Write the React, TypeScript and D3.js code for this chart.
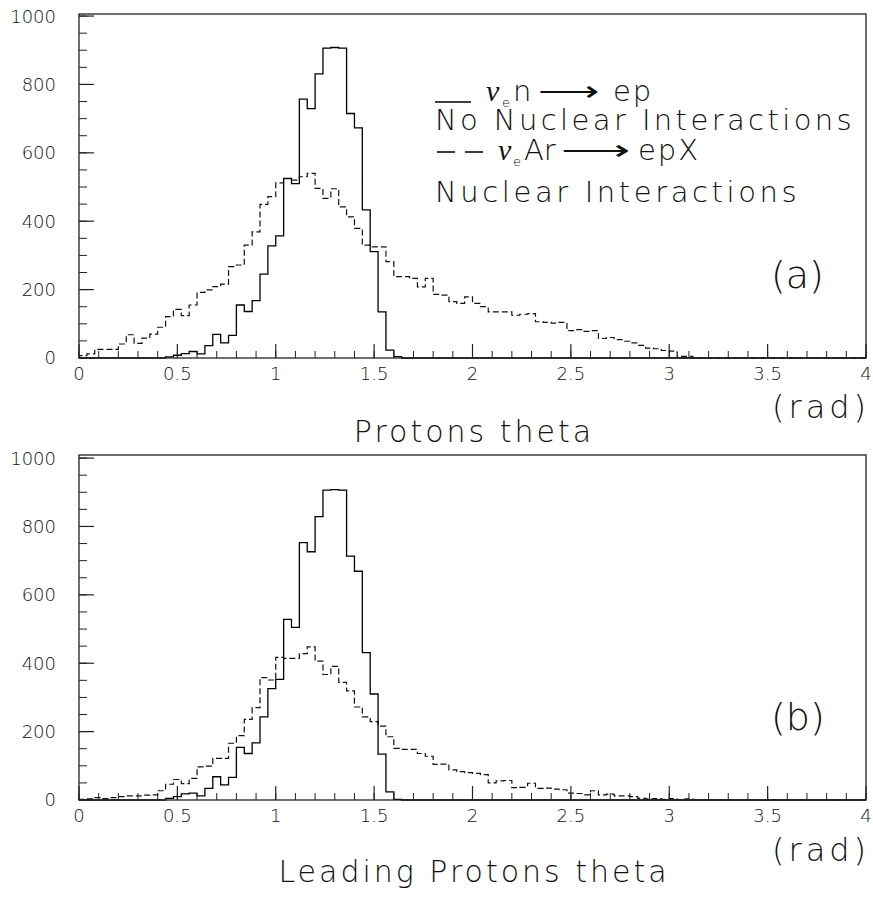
import React from "react";
import * as d3 from "d3";

// ---- data (bin width 0.04 rad, 100 bins from 0 to 4) ----
const BIN_WIDTH = 0.04;

const solidA = [
  0, 0, 0, 0, 0, 0, 0, 0, 0, 0,
  0, 3, 8, 13, 19, 12, 36, 69, 44, 66,
  155, 136, 168, 245, 328, 357, 525, 510, 757, 729,
  831, 906, 908, 906, 715, 673, 433, 311, 135, 23,
  4, 0, 0, 0, 0, 0, 0, 0, 0, 0,
  0, 0, 0, 0, 0, 0, 0, 0, 0, 0,
  0, 0, 0, 0, 0, 0, 0, 0, 0, 0,
  0, 0, 0, 0, 0, 0, 0, 0, 0, 0,
  0, 0, 0, 0, 0, 0, 0, 0, 0, 0,
  0, 0, 0, 0, 0, 0, 0, 0, 0, 0,
];

const dashedA = [
  7, 12, 25, 25, 25, 41, 68, 43, 58, 70,
  90, 121, 142, 124, 155, 192, 199, 209, 216, 267,
  272, 330, 369, 449, 472, 512, 525, 520, 530, 540,
  496, 467, 495, 442, 413, 379, 330, 325, 325, 282,
  238, 238, 233, 208, 233, 186, 184, 165, 160, 179,
  160, 150, 135, 135, 135, 125, 128, 130, 106, 104,
  102, 104, 80, 83, 78, 80, 57, 60, 54, 49,
  44, 37, 29, 27, 22, 20, 5, 5, 0, 0,
  0, 0, 0, 0, 0, 0, 0, 0, 0, 0,
  0, 0, 0, 0, 0, 0, 0, 0, 0, 0,
];

const solidB = [
  0, 0, 0, 0, 0, 0, 0, 0, 0, 0,
  0, 5, 10, 18, 20, 12, 34, 68, 44, 66,
  154, 136, 167, 243, 326, 353, 528, 505, 753, 726,
  829, 906, 908, 906, 713, 669, 431, 310, 134, 24,
  2, 0, 0, 0, 0, 0, 0, 0, 0, 0,
  0, 0, 0, 0, 0, 0, 0, 0, 0, 0,
  0, 0, 0, 0, 0, 0, 0, 0, 0, 0,
  0, 0, 0, 0, 0, 0, 0, 0, 0, 0,
  0, 0, 0, 0, 0, 0, 0, 0, 0, 0,
  0, 0, 0, 0, 0, 0, 0, 0, 0, 0,
];

const dashedB = [
  2, 3, 7, 4, 7, 10, 12, 12, 14, 15,
  27, 46, 60, 48, 63, 97, 99, 122, 122, 166,
  188, 236, 270, 358, 351, 417, 414, 414, 428, 448,
  406, 367, 391, 344, 319, 272, 243, 229, 216, 185,
  151, 148, 148, 136, 128, 104, 105, 88, 83, 80,
  78, 74, 50, 56, 57, 36, 37, 49, 34, 35,
  32, 30, 20, 19, 15, 27, 15, 17, 12, 12,
  10, 5, 3, 4, 2, 4, 0, 3, 0, 0,
  0, 0, 0, 0, 0, 0, 0, 0, 0, 0,
  0, 0, 0, 0, 0, 0, 0, 0, 0, 0,
];

const xMajorTicks = [0, 0.5, 1, 1.5, 2, 2.5, 3, 3.5, 4];
const xTickLabels = ["0", "0.5", "1", "1.5", "2", "2.5", "3", "3.5", "4"];
const yMajorTicks = [0, 200, 400, 600, 800, 1000];
const yTickLabels = ["0", "200", "400", "600", "800", "1000"];

const FONT = "'DejaVu Sans', 'Liberation Sans', sans-serif";
const NU_FONT = "'Liberation Serif', serif";
const X0 = 79;
const X1 = 866;

type PanelProps = {
  top: number;
  bottom: number;
  yMax: number;
  solid: number[];
  dashed: number[];
  tag: string;
  tagBaseline: number;
  title: string;
  titleBaseline: number;
  radBaseline: number;
  xLabelBaseline: number;
};

function histPath(values: number[], x: d3.ScaleLinear<number, number>, y: d3.ScaleLinear<number, number>) {
  const pts: [number, number][] = [[0, 0]];
  values.forEach((v, i) => pts.push([i * BIN_WIDTH, v]));
  pts.push([values.length * BIN_WIDTH, values[values.length - 1]]);
  const line = d3
    .line<[number, number]>()
    .x((d) => x(d[0]))
    .y((d) => y(d[1]))
    .curve(d3.curveStepAfter);
  return line(pts) || "";
}

function Panel(p: PanelProps) {
  const x = d3.scaleLinear().domain([0, 4]).range([X0, X1]);
  const y = d3.scaleLinear().domain([0, p.yMax]).range([p.bottom, p.top]);
  const xMinor = x.ticks(40);
  const yMinor = d3.scaleLinear().domain([0, 1000]).ticks(20);
  return (
    <g>
      {/* histograms */}
      <path d={histPath(p.dashed, x, y)} fill="none" stroke="#111" strokeWidth={1.2} strokeDasharray="6 3" />
      <path d={histPath(p.solid, x, y)} fill="none" stroke="#000" strokeWidth={1.3} />
      {/* frame */}
      <rect x={X0} y={p.top} width={X1 - X0} height={p.bottom - p.top} fill="none" stroke="#222" strokeWidth={1.3} />
      {/* y ticks */}
      {yMinor.map((t) => (
        <line key={"ym" + t} x1={X0} x2={X0 + 8} y1={y(t)} y2={y(t)} stroke="#222" strokeWidth={1} />
      ))}
      {yMajorTicks.map((t) => (
        <line key={"yM" + t} x1={X0} x2={X0 + 15} y1={y(t)} y2={y(t)} stroke="#222" strokeWidth={1.2} />
      ))}
      {yMajorTicks.map((t, i) => (
        <text key={"yl" + t} x={56} y={y(t)} dy="0.36em" textAnchor="end" fontSize={18} fontFamily={FONT} fontWeight={300} fill="#111">
          {yTickLabels[i]}
        </text>
      ))}
      {/* x ticks */}
      {xMinor.map((t) => (
        <line key={"xm" + t} x1={x(t)} x2={x(t)} y1={p.bottom} y2={p.bottom - 7} stroke="#222" strokeWidth={1} />
      ))}
      {xMajorTicks.map((t) => (
        <line key={"xM" + t} x1={x(t)} x2={x(t)} y1={p.bottom} y2={p.bottom - 14} stroke="#222" strokeWidth={1.2} />
      ))}
      {xMajorTicks.map((t, i) => (
        <text key={"xl" + t} x={x(t)} y={p.xLabelBaseline} textAnchor="middle" fontSize={18} fontFamily={FONT} fontWeight={300} fill="#111">
          {xTickLabels[i]}
        </text>
      ))}
      {/* labels */}
      <text x={771} y={p.tagBaseline} fontSize={38} fontFamily={FONT} fontWeight={300} fill="#111">
        {p.tag}
      </text>
      <text x={772} y={p.radBaseline} fontSize={32} letterSpacing={4} fontFamily={FONT} fontWeight={300} fill="#111">
        (rad)
      </text>
      <text x={474} y={p.titleBaseline} textAnchor="middle" fontSize={30} letterSpacing={3} fontFamily={FONT} fontWeight={300} fill="#111">
        {p.title}
      </text>
    </g>
  );
}

function Legend() {
  const fs = 29;
  return (
    <g fontFamily={FONT} fontWeight={300} fill="#111">
      <line x1={435} x2={471} y1={102} y2={102} stroke="#000" strokeWidth={1.3} />
      <text fontSize={fs}>
        <tspan x={486} y={101} fontFamily={NU_FONT} fontStyle="italic" fontWeight={400} fontSize={30}>ν</tspan>
        <tspan x={502} y={107} fontSize={13}>e</tspan>
        <tspan x={513} y={101}>n</tspan>
        <tspan x={538} y={101} textLength={62} lengthAdjust="spacingAndGlyphs">⟶</tspan>
        <tspan x={613} y={101} letterSpacing={2}>ep</tspan>
      </text>

      <text x={435} y={130} fontSize={fs} letterSpacing={3.4}>No Nuclear Interactions</text>

      <line x1={437} x2={484} y1={152} y2={152} stroke="#000" strokeWidth={1.3} strokeDasharray="18 10" />
      <text fontSize={fs}>
        <tspan x={498} y={160} fontFamily={NU_FONT} fontStyle="italic" fontWeight={400} fontSize={30}>ν</tspan>
        <tspan x={513} y={166} fontSize={13}>e</tspan>
        <tspan x={524} y={160}>Ar</tspan>
        <tspan x={561} y={160} textLength={70} lengthAdjust="spacingAndGlyphs">⟶</tspan>
        <tspan x={638} y={160} letterSpacing={2}>epX</tspan>
      </text>

      <text x={435} y={202} fontSize={fs} letterSpacing={3.6}>Nuclear Interactions</text>
    </g>
  );
}

export default function App() {
  return (
    <svg width={873} height={900} style={{ position: "absolute", left: 0, top: 0, background: "#fff" }}>
      <rect x={0} y={0} width={873} height={900} fill="#fff" />
      <Panel
        top={14}
        bottom={358}
        yMax={1006}
        solid={solidA}
        dashed={dashedA}
        tag="(a)"
        tagBaseline={288}
        title="Protons theta"
        titleBaseline={442}
        radBaseline={418}
        xLabelBaseline={380}
      />
      <Legend />
      <Panel
        top={455}
        bottom={800}
        yMax={1009}
        solid={solidB}
        dashed={dashedB}
        tag="(b)"
        tagBaseline={730}
        title="Leading Protons theta"
        titleBaseline={882}
        radBaseline={861}
        xLabelBaseline={822}
      />
    </svg>
  );
}
